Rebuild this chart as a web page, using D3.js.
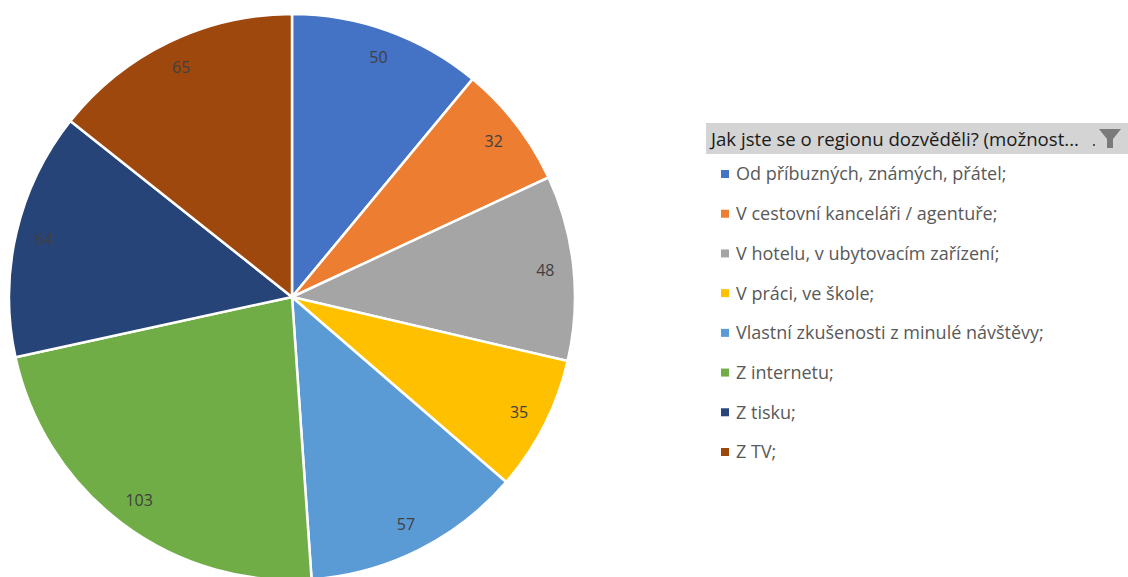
<!DOCTYPE html>
<html>
<head>
<meta charset="utf-8">
<script src="https://cdn.jsdelivr.net/npm/d3@7"></script>
<style>
  body { margin: 0; background: #fff; overflow: hidden; }
  svg { display: block; }
</style>
</head>
<body>
<svg id="chart" width="1128" height="577"></svg>
<script>
// data
var categories = [
    "Od příbuzných, známých, přátel;",
    "V cestovní kanceláři / agentuře;",
    "V hotelu, v ubytovacím zařízení;",
    "V práci, ve škole;",
    "Vlastní zkušenosti z minulé návštěvy;",
    "Z internetu;",
    "Z tisku;",
    "Z TV;"
];
var values = [50, 32, 48, 35, 57, 103, 64, 65];
var colors = ["#4472C4", "#ED7D31", "#A5A5A5", "#FFC000", "#5B9BD5", "#70AD47", "#264478", "#9E480E"];
var legendTitle = "Jak jste se o regionu dozvěděli? (možnost...";

var svg = d3.select("#chart");
var font = "'Open Sans', 'Noto Sans', sans-serif";

// PIE:
var cx = 292, cy = 297, radius = 283;

var pie = d3.pie().sort(null).value(function (d) { return d; });
var arcs = pie(values);

var arc = d3.arc().innerRadius(0).outerRadius(radius);
var labelArc = d3.arc().innerRadius(radius * 0.9).outerRadius(radius * 0.9);

var g = svg.append("g").attr("transform", "translate(" + cx + "," + cy + ")");

g.selectAll("path")
    .data(arcs)
    .enter()
    .append("path")
    .attr("d", arc)
    .attr("fill", function (d, i) { return colors[i]; })
    .attr("stroke", "#fff")
    .attr("stroke-width", 2.5)
    .attr("stroke-linejoin", "round");

g.selectAll("text")
    .data(arcs)
    .enter()
    .append("text")
    .attr("transform", function (d) { return "translate(" + labelArc.centroid(d) + ")"; })
    .attr("text-anchor", "middle")
    .attr("dy", "0.35em")
    .attr("font-family", font)
    .attr("font-size", 16)
    .attr("fill", "#404040")
    .text(function (d) { return d.data; });

// LEGEND:
var lx = 706;

// header bar
svg.append("rect")
    .attr("x", lx)
    .attr("y", 123)
    .attr("width", 1128 - lx)
    .attr("height", 31)
    .attr("fill", "#d4d4d4");

svg.append("text")
    .attr("x", 711)
    .attr("y", 146)
    .attr("font-family", font)
    .attr("font-size", 18)
    .attr("fill", "#1a1a1a")
    .attr("textLength", 368)
    .attr("lengthAdjust", "spacingAndGlyphs")
    .text(legendTitle);

// little dot and filter funnel
svg.append("rect")
    .attr("x", 1093).attr("y", 144)
    .attr("width", 2).attr("height", 2)
    .attr("fill", "#555");

svg.append("path")
    .attr("d", "M1099,129 L1121,129 L1113,139 L1113,148 L1107,148 L1107,139 Z")
    .attr("fill", "#7a7a7a");

// legend items
var itemY = d3.scalePoint()
    .domain(categories)
    .range([174, 452]);

var items = svg.selectAll(".item")
    .data(categories)
    .enter()
    .append("g")
    .attr("class", "item")
    .attr("transform", function (d) { return "translate(0," + itemY(d) + ")"; });

items.append("rect")
    .attr("x", 721)
    .attr("y", -4)
    .attr("width", 8)
    .attr("height", 8)
    .attr("fill", function (d, i) { return colors[i]; });

items.append("text")
    .attr("x", 736)
    .attr("dy", "0.36em")
    .attr("font-family", font)
    .attr("font-size", 18)
    .attr("fill", "#595959")
    .text(function (d) { return d; });
</script>
</body>
</html>
